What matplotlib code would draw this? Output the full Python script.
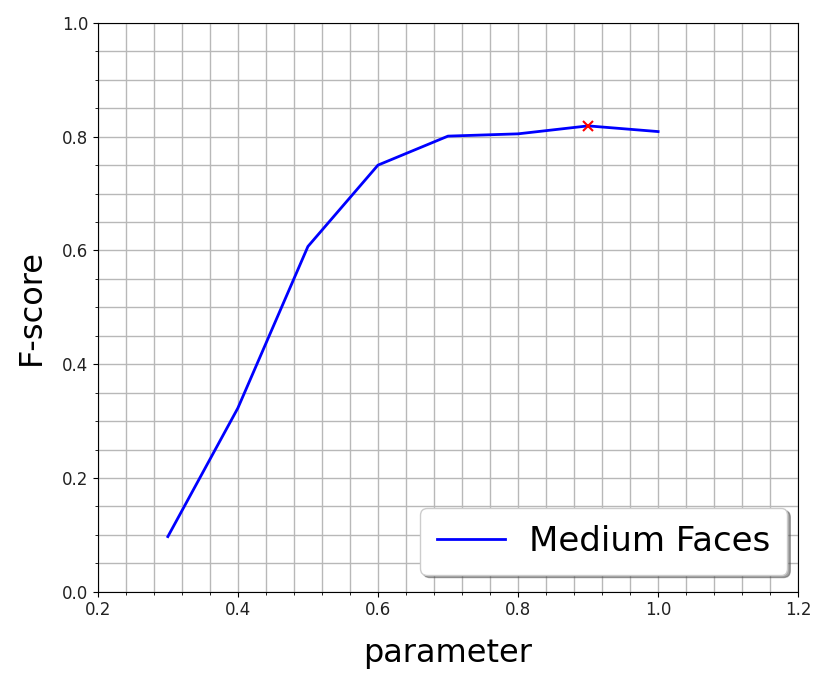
import matplotlib.pyplot as plt
from matplotlib.ticker import MultipleLocator

# data
params = [0.3, 0.4, 0.5, 0.6, 0.7, 0.8, 0.9, 1.0]
fscore = [0.097, 0.323, 0.607, 0.750, 0.801, 0.805, 0.819, 0.809]
best_param = 0.9
best_score = 0.819

fig, ax = plt.subplots(figsize=(8.22, 6.74), dpi=100)
ax.plot(params, fscore, color='blue', linewidth=2, label='Medium Faces')
ax.plot(best_param, best_score, 'x', color='red', markersize=7, markeredgewidth=1.5)

ax.set_xlim(0.2, 1.2)
ax.set_ylim(0.0, 1.0)
ax.xaxis.set_minor_locator(MultipleLocator(0.04))
ax.yaxis.set_minor_locator(MultipleLocator(0.05))
ax.grid(True, which='both', color='#b8b8b8', linewidth=1)
ax.set_axisbelow(True)
ax.tick_params(labelsize=12, labelcolor='#222222')

ax.set_xlabel('parameter', fontsize=23, labelpad=13)
ax.set_ylabel('F-score', fontsize=23, labelpad=11)
ax.legend(loc='lower right', bbox_to_anchor=(1.009, 0.0), fontsize=24.5,
          shadow=True, fancybox=True, framealpha=1, borderpad=0.5,
          handletextpad=0.7)

plt.subplots_adjust(left=0.119, right=0.971, top=0.966, bottom=0.122)
plt.savefig('out.png')
plt.close()
